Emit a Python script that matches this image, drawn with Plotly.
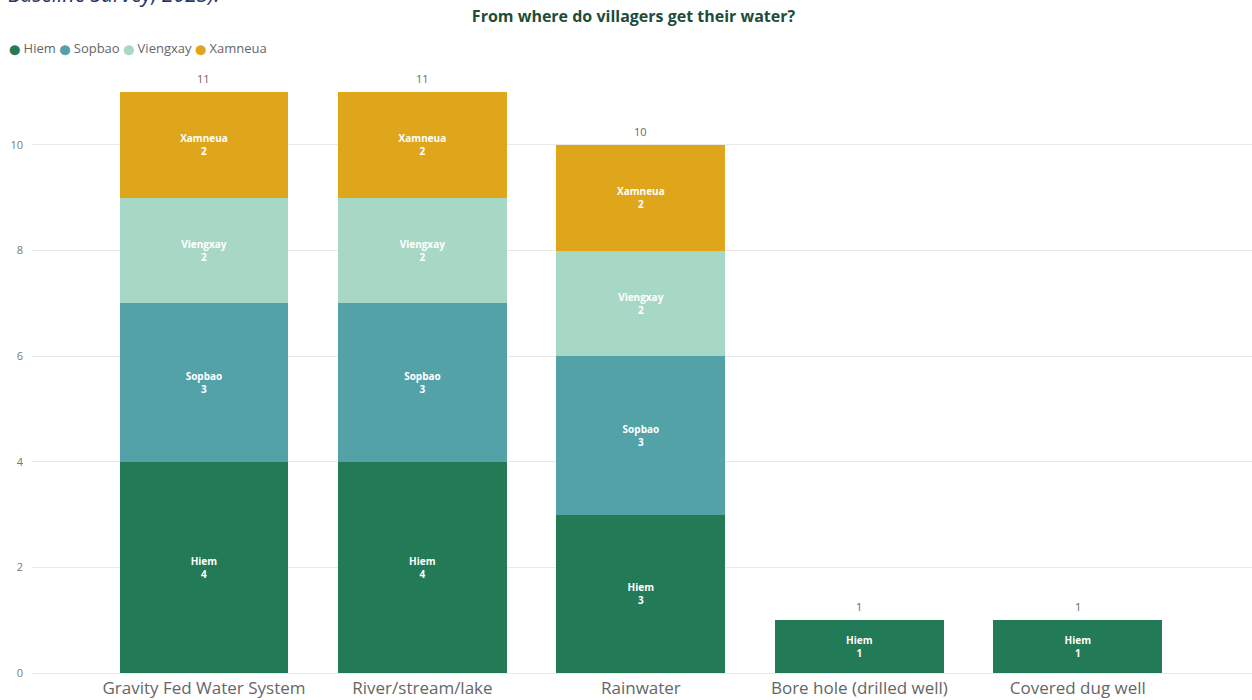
import plotly.graph_objects as go

categories = ["Gravity Fed Water System", "River/stream/lake", "Rainwater",
              "Bore hole (drilled well)", "Covered dug well"]
series_names = ["Hiem", "Sopbao", "Viengxay", "Xamneua"]
hiem = [4, 4, 3, 1, 1]
sopbao = [3, 3, 3, None, None]
viengxay = [2, 2, 2, None, None]
xamneua = [2, 2, 2, None, None]
colors = ["#237A57", "#52A2A7", "#A7D8C6", "#DFA61C"]
y_ticks = [0, 2, 4, 6, 8, 10]

series_values = [hiem, sopbao, viengxay, xamneua]
totals = [sum(v[i] or 0 for v in series_values) for i in range(len(categories))]

FONT = "Segoe UI, Open Sans, sans-serif"
fig = go.Figure()
for name, vals, col in zip(series_names, series_values, colors):
    fig.add_trace(go.Bar(
        x=categories, y=vals, name=name, marker=dict(color=col, line=dict(width=0)),
        texttemplate="<b>" + name + "</b><br><b>%{y}</b>",
        textposition="inside", insidetextanchor="middle",
        textfont=dict(color="white", size=10, family=FONT),
        showlegend=False, hoverinfo="x+y+name",
    ))

annotations = []
for cat, tot in zip(categories, totals):
    annotations.append(dict(x=cat, y=tot, xref="x", yref="y", text=str(tot),
                            showarrow=False, yanchor="bottom", yshift=4,
                            font=dict(size=11, color="#666666", family=FONT)))

legend_html = " ".join(
    "<span style='color:%s;font-family:DejaVu Sans;font-size:10px'>⬤</span> %s" % (c, n)
    for n, c in zip(series_names, colors))
annotations.append(dict(text=legend_html, xref="paper", yref="paper",
                        x=-0.0205, xanchor="left", y=1.028, yanchor="middle",
                        showarrow=False,
                        font=dict(size=13, color="#666666", family=FONT)))
annotations.append(dict(text="<i>Baseline Survey, 2023).</i>", xref="paper", yref="paper",
                        x=-0.021, xanchor="left", y=1.0905, yanchor="bottom", showarrow=False,
                        font=dict(size=21, color="#1F3864", family=FONT)))

fig.update_layout(
    width=1252, height=700,
    barmode="stack", bargap=0.227,
    plot_bgcolor="white", paper_bgcolor="white",
    margin=dict(l=32, r=0, t=65, b=27),
    font=dict(family=FONT, color="#666666"),
    showlegend=False,
    title=dict(text="<b>From where do villagers get their water?</b>",
               x=0.506, xanchor="center", y=0.976, yanchor="middle",
               font=dict(size=16, color="#1E4D3A", family=FONT)),
    xaxis=dict(range=[-0.787, 4.797], showgrid=False, showline=False, zeroline=False,
               tickfont=dict(size=17, color="#666666", family=FONT), ticks="",
               ticklabelstandoff=3),
    yaxis=dict(range=[0, 11.515], tickvals=y_ticks, showgrid=True, gridcolor="#E9E9E9",
               zeroline=True, zerolinecolor="#E9E9E9", zerolinewidth=1,
               tickfont=dict(size=11, color="#777777", family=FONT), ticks="",
               ticklabelstandoff=8),
    annotations=annotations,
)
fig.write_html("out.html")
